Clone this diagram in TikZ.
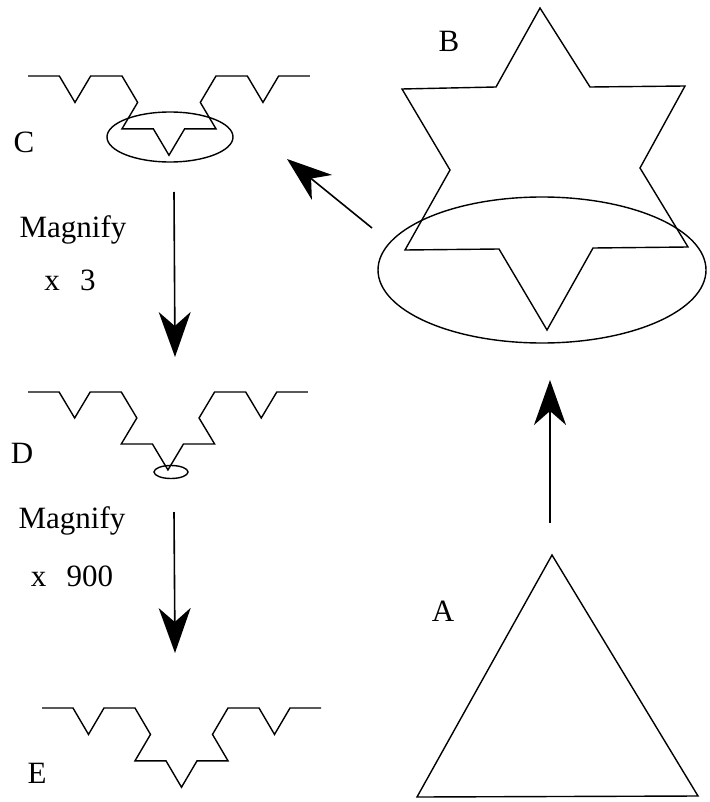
\documentclass[tikz,border=0pt]{standalone}
\usepackage{fontspec}
\setmainfont{Liberation Serif}
\usetikzlibrary{arrows.meta}
\newcommand{\mykochpath}{(0,0) -- (1,0) -- (1.5,0.866) -- (2,0) -- (3,0) -- (3.5,0.866) -- (3,1.732) -- (4,1.732) -- (4.5,2.598) -- (5,1.732) -- (6,1.732) -- (5.5,0.866) -- (6,0) -- (7,0) -- (7.5,0.866) -- (8,0) -- (9,0)}
\tikzset{
  shape line/.style={line width=1.4pt, line join=miter},
  bigarrow/.style={line width=1.6pt, -{Stealth[length=45pt,width=32pt,inset=14pt]}},
  lbl/.style={font=\fontsize{31}{35}\selectfont, inner sep=0pt, anchor=base},
}
\begin{document}
\begin{tikzpicture}[x=1pt,y=-1pt]
\useasboundingbox (0,0) rectangle (709,802);
% Star B
\draw[shape line] (540,8) -- (590,87) -- (685,86) -- (640,168) -- (688,247) -- (593,248)
  -- (547,330) -- (499,249) -- (405,250) -- (450,170) -- (402,89) -- (496,87) -- cycle;
\draw[shape line] (542,270) ellipse [x radius=164pt, y radius=73pt];
% Triangle A
\draw[shape line] (552,555) -- (698,796) -- (417,797) -- cycle;
% Koch curves
\begin{scope}[shift={(28,76)}]
  \begin{scope}[x=31.33pt,y=-30.5pt]
    \draw[shape line] \mykochpath;
  \end{scope}
\end{scope}
\draw[shape line] (170,137) ellipse [x radius=63pt, y radius=25pt];
\begin{scope}[shift={(28,392)}]
  \begin{scope}[x=31.1pt,y=-30pt]
    \draw[shape line] \mykochpath;
  \end{scope}
\end{scope}
\draw[shape line] (171,472) ellipse [x radius=17pt, y radius=6.5pt];
\begin{scope}[shift={(42,708)}]
  \begin{scope}[x=31pt,y=-30.5pt]
    \draw[shape line] \mykochpath;
  \end{scope}
\end{scope}
% Labels
\node[lbl] (lB) at (449,52) {B};
\node[lbl] (lA) at (443,621) {A};
\node[lbl] (lC) at (24,153) {C};
\node[lbl] (lD) at (22,463) {D};
\node[lbl] (lE) at (37,783) {E};
\node[lbl] (m1) at (73,237) {Magnify};
\node[lbl] (f1) at (70,290) {x\hspace{0.4em} 3};
\node[lbl] (m2) at (72,528) {Magnify};
\node[lbl] (f2) at (72,586) {x\hspace{0.4em} 900};
% Arrows
\coordinate (abS) at (550,523);
\coordinate (abE) at (550,380);
\coordinate (bcS) at (372,228);
\coordinate (bcE) at (287,159);
\coordinate (cdS) at (174,192);
\coordinate (cdE) at (175,357);
\coordinate (deS) at (174,512);
\coordinate (deE) at (175,653);
\draw[bigarrow] (abS) -- (abE);
\draw[bigarrow] (bcS) -- (bcE);
\draw[bigarrow] (cdS) -- (cdE);
\draw[bigarrow] (deS) -- (deE);
\end{tikzpicture}
\end{document}
